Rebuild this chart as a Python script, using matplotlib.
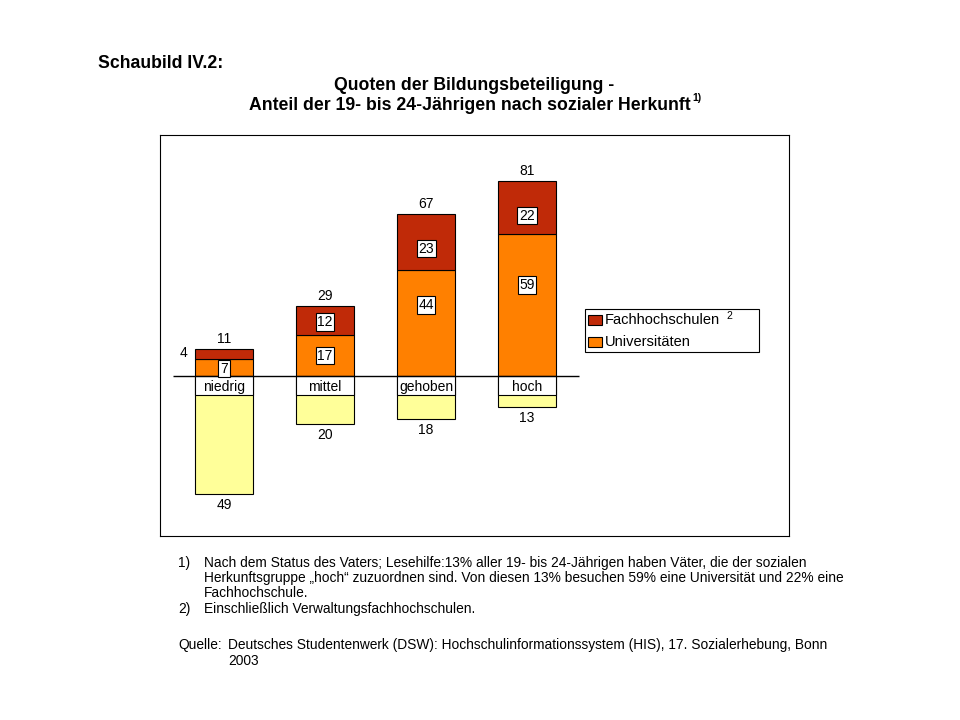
import matplotlib
matplotlib.use("Agg")
import matplotlib.pyplot as plt
from matplotlib.patches import Rectangle
import numpy as np

plt.rcParams["font.family"] = ["Liberation Sans", "DejaVu Sans"]

# data (percent of 19- to 24-year-olds)
groups = ["niedrig", "mittel", "gehoben", "hoch"]
uni = [7, 17, 44, 59]           # Universitäten
fh = [4, 12, 23, 22]            # Fachhochschulen
total = [11, 29, 67, 81]        # Bildungsbeteiligung gesamt
share = [49, 20, 18, 13]        # Anteil der Herkunftsgruppe
legend_labels = ["Fachhochschulen", "Universitäten"]

C_FH = "#C02A08"
C_UNI = "#FF8000"
C_SHARE = "#FFFF99"

fig = plt.figure(figsize=(9.6, 7.2), dpi=100)
ax = fig.add_axes([160 / 960, 1 - 536 / 720, 629 / 960, 401 / 720])
x = np.arange(len(groups))
w = 0.58
band = 7.9   # height of the white label band below the axis
fs_in = 10

ax.bar(x, [-s for s in share], w, color=C_SHARE, edgecolor="black", lw=0.8, zorder=2)
ax.bar(x, uni, w, color=C_UNI, edgecolor="black", lw=0.8, zorder=2)
ax.bar(x, fh, w, bottom=uni, color=C_FH, edgecolor="black", lw=0.8, zorder=2)
ax.bar(x, [-band] * len(x), w, color="white", edgecolor="black", lw=0.8, zorder=3)
ax.hlines(0, x[0] - 0.505, x[-1] + 0.515, color="black", lw=1.0, zorder=4)

box = dict(boxstyle="square,pad=0.12", fc="white", ec="black", lw=0.8)
uni_pos = [0.42, 0.49, 0.67, 0.64]
fh_pos = [0.5, 0.45, 0.38, 0.34]
for i in range(len(x)):
    ax.text(x[i], -band / 2 - 0.6, groups[i], ha="center", va="center",
            fontsize=fs_in, zorder=5)
    ax.text(x[i], total[i] + 4.2, str(total[i]), ha="center", va="center", fontsize=fs_in)
    ax.text(x[i], -share[i] - 4.6, str(share[i]), ha="center", va="center", fontsize=fs_in)
    ax.text(x[i], uni[i] * uni_pos[i], str(uni[i]), ha="center", va="center",
            fontsize=fs_in, bbox=box, zorder=6)
    if i == 0:
        ax.text(x[i] - w / 2 - 0.11, uni[i] + fh[i] / 2 + 0.5, str(fh[i]),
                ha="center", va="center", fontsize=fs_in)
    else:
        ax.text(x[i], uni[i] + fh[i] * fh_pos[i], str(fh[i]), ha="center", va="center",
                fontsize=fs_in, bbox=box, zorder=6)

ax.set_xlim(-0.634, 5.594)
ax.set_ylim(-66.5, 100)
ax.set_xticks([])
ax.set_yticks([])
for sp in ax.spines.values():
    sp.set_color("black")
    sp.set_linewidth(0.8)

# legend, drawn by hand in axes fractions
def ax_px(px, py):
    return ((px - 160) / 629, (536 - py) / 401)

lx0, ly0 = ax_px(585, 352)
lx1, ly1 = ax_px(759, 309)
ax.add_patch(Rectangle((lx0, ly0), lx1 - lx0, ly1 - ly0, transform=ax.transAxes,
                       fc="white", ec="black", lw=0.8, zorder=6))
for col, lab, py in zip([C_FH, C_UNI], legend_labels, [320, 342]):
    px0, py0 = ax_px(588, py + 5)
    px1, py1 = ax_px(602, py - 5)
    ax.add_patch(Rectangle((px0, py0), px1 - px0, py1 - py0, transform=ax.transAxes,
                           fc=col, ec="black", lw=0.8, zorder=7))
    tx, ty = ax_px(605, py)
    ax.text(tx, ty, lab, transform=ax.transAxes, fontsize=10.5, ha="left",
            va="center", zorder=7)
sx, sy = ax_px(726, 316)
ax.text(sx, sy, "2", transform=ax.transAxes, fontsize=7.5, ha="left", va="center", zorder=7)

# titles
ft = 12.7
fig.text(98 / 960, 1 - 63 / 720, "Schaubild IV.2:", fontsize=ft, fontweight="bold",
         ha="left", va="center")
fig.text(474 / 960, 1 - 85 / 720, "Quoten der Bildungsbeteiligung -", fontsize=ft,
         fontweight="bold", ha="center", va="center")
fig.text(470 / 960, 1 - 105 / 720,
         "Anteil der 19- bis 24-Jährigen nach sozialer Herkunft",
         fontsize=ft, fontweight="bold", ha="center", va="center")
fig.text(692 / 960, 1 - 98 / 720, "1)", fontsize=7.5, fontweight="bold",
         ha="left", va="center")

# footnotes
fs = 9.9
fig.text(178 / 960, 1 - 563 / 720, "1)", fontsize=fs, va="center")
fig.text(204 / 960, 1 - 563 / 720,
         "Nach dem Status des Vaters; Lesehilfe:13% aller 19- bis 24-Jährigen haben Väter, die der sozialen",
         fontsize=fs, va="center")
fig.text(204 / 960, 1 - 578 / 720,
         "Herkunftsgruppe „hoch“ zuzuordnen sind. Von diesen 13% besuchen 59% eine Universität und 22% eine",
         fontsize=fs, va="center")
fig.text(204 / 960, 1 - 593 / 720, "Fachhochschule.", fontsize=fs, va="center")
fig.text(178 / 960, 1 - 609 / 720, "2)", fontsize=fs, va="center")
fig.text(204 / 960, 1 - 609 / 720, "Einschließlich Verwaltungsfachhochschulen.",
         fontsize=fs, va="center")
fig.text(178 / 960, 1 - 645 / 720, "Quelle:", fontsize=fs, va="center")
fig.text(228 / 960, 1 - 645 / 720,
         "Deutsches Studentenwerk (DSW): Hochschulinformationssystem (HIS), 17. Sozialerhebung, Bonn",
         fontsize=fs, va="center")
fig.text(228 / 960, 1 - 661 / 720, "2003", fontsize=fs, va="center")

fig.savefig("out.png", dpi=100)
